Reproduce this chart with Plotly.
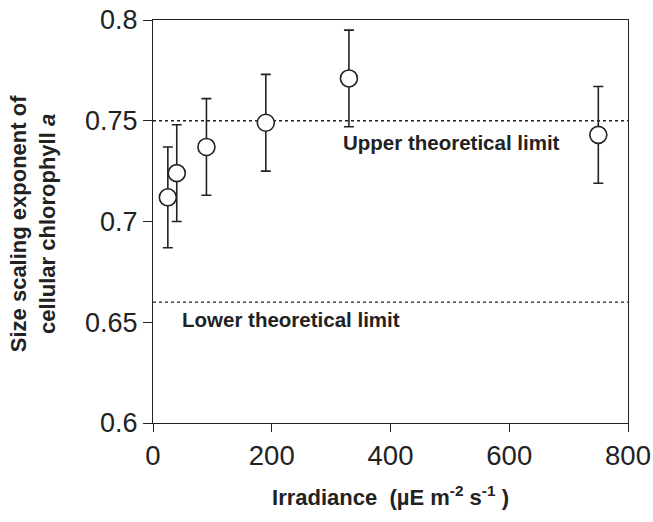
import plotly.graph_objects as go

irradiance = [25, 40, 90, 190, 330, 750]
exponent = [0.712, 0.724, 0.737, 0.749, 0.771, 0.743]
err = [0.025, 0.024, 0.024, 0.024, 0.024, 0.024]
upper_limit = 0.75
lower_limit = 0.66
x_ticks = [0, 200, 400, 600, 800]
y_ticks = [0.6, 0.65, 0.7, 0.75, 0.8]
y_tick_text = ["0.6", "0.65", "0.7", "0.75", "0.8"]

ink = "#222222"
fig = go.Figure()

for lim in (upper_limit, lower_limit):
    fig.add_trace(go.Scatter(x=[0, 800], y=[lim, lim], mode="lines",
                             line=dict(color=ink, width=1.3, dash="dot"),
                             hoverinfo="skip", showlegend=False))

fig.add_trace(go.Scatter(
    x=irradiance, y=exponent, mode="markers",
    marker=dict(symbol="circle", size=17, color="white", line=dict(color=ink, width=1.6)),
    error_y=dict(type="data", array=err, visible=True, color=ink, thickness=1.6, width=5),
    showlegend=False))

fig.add_annotation(x=316, y=0.739, text="<b>Upper theoretical limit</b>", showarrow=False,
                   xanchor="left", yanchor="middle", font=dict(size=20.5, color=ink, family="Liberation Sans"))
fig.add_annotation(x=46, y=0.6516, text="<b>Lower theoretical limit</b>", showarrow=False,
                   xanchor="left", yanchor="middle", font=dict(size=20.5, color=ink, family="Liberation Sans"))

# y-axis title placed as a rotated annotation
fig.add_annotation(xref="paper", yref="paper", x=-0.252, y=0.494, textangle=-90,
                   text="<b>Size scaling exponent of<br>cellular chlorophyll <i>a</i></b>",
                   showarrow=False, xanchor="center", yanchor="middle",
                   font=dict(size=22, color=ink, family="Liberation Sans"))

fig.update_layout(
    width=653, height=522,
    margin=dict(l=153, r=25, t=20, b=99),
    paper_bgcolor="white", plot_bgcolor="white",
    font=dict(family="Liberation Sans", color=ink),
    xaxis=dict(range=[0, 800], tickvals=x_ticks, ticks="outside", ticklen=8, tickwidth=1.3,
               tickcolor=ink, showline=True, linecolor=ink, linewidth=1.3, mirror=True,
               showgrid=False, zeroline=False, tickfont=dict(size=27.5, color=ink), automargin=False,
               ticklabeloverflow="allow",
               title=dict(text="<b>Irradiance  (µE m<sup>-2</sup> s<sup>-1</sup> )</b>",
                          font=dict(size=22, color=ink), standoff=19)),
    yaxis=dict(range=[0.6, 0.8], tickvals=y_ticks, ticktext=y_tick_text, ticks="outside",
               ticklen=9, tickwidth=1.3, tickcolor=ink, showline=True, linecolor=ink,
               linewidth=1.3, mirror=True, showgrid=False, zeroline=False, automargin=False,
               ticklabeloverflow="allow",
               tickfont=dict(size=27, color=ink)),
)

# remove the browser's default 8px body margin so the figure fills the window exactly
fig.write_html("out.html", config={"displayModeBar": False},
               post_script="document.body.style.margin='0';")
